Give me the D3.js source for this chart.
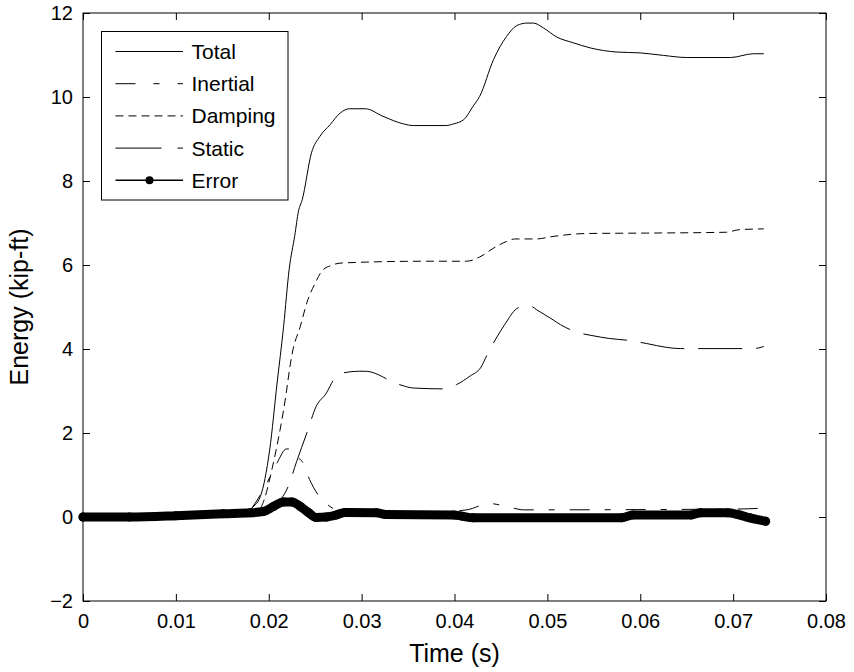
<!DOCTYPE html>
<html>
<head>
<meta charset="utf-8">
<script src="https://cdn.jsdelivr.net/npm/d3@7"></script>
<style>
    body { margin: 0; background: #fff; }
    svg { display: block; font-family: "Liberation Sans", Arial, Helvetica, sans-serif; }
</style>
</head>
<body>
<svg id="chart" width="854" height="672"></svg>
<script>
// values: [time (s), energy (kip-ft)]
const totalData = [[0,0],[0.0175,0.02],[0.018,0.17],[0.0191,0.49],[0.0201,1.6],[0.0209,3.19],[0.0216,4.54],
    [0.0222,5.9],[0.0228,6.7],[0.0232,7.28],[0.0236,7.55],[0.0246,8.67],[0.0255,9.06],[0.0266,9.34],
    [0.0277,9.62],[0.0287,9.72],[0.0304,9.72],[0.0323,9.54],[0.0345,9.36],[0.0356,9.32],[0.0391,9.32],
    [0.0399,9.36],[0.041,9.46],[0.042,9.78],[0.0427,10.01],[0.0442,10.89],[0.0456,11.44],[0.0467,11.7],
    [0.0478,11.76],[0.0485,11.76],[0.0496,11.64],[0.051,11.43],[0.0528,11.29],[0.0546,11.17],[0.0575,11.07],
    [0.06,11.05],[0.0625,10.99],[0.065,10.94],[0.0697,10.94],[0.0722,11.03],[0.0733,11.03]];

const inertialData = [[0,0],[0.0175,0.03],[0.0183,0.25],[0.0198,0.81],[0.0209,1.29],[0.0219,1.62],[0.0225,1.62],
    [0.023,1.44],[0.0236,1.32],[0.0244,0.89],[0.0253,0.53],[0.0266,0.25],[0.028,0.12],[0.038,0.12],
    [0.0413,0.17],[0.0438,0.32],[0.0456,0.25],[0.0475,0.17],[0.0705,0.19],[0.0733,0.21]];

const dampingData = [[0,0],[0.018,0.02],[0.0192,0.25],[0.0205,1.29],[0.0216,2.55],[0.0226,3.98],[0.0234,4.54],
    [0.0241,5.1],[0.025,5.57],[0.0257,5.85],[0.0266,5.98],[0.028,6.05],[0.037,6.09],[0.0413,6.09],
    [0.0427,6.19],[0.0442,6.4],[0.0456,6.56],[0.0465,6.62],[0.0488,6.62],[0.0506,6.68],[0.0542,6.75],
    [0.0607,6.76],[0.0693,6.78],[0.0706,6.84],[0.0733,6.86]];

const staticData = [[0,0],[0.0188,0.03],[0.0205,0.25],[0.0221,0.73],[0.023,1.32],[0.0241,2.0],[0.0251,2.63],
    [0.0262,2.95],[0.027,3.27],[0.028,3.43],[0.0298,3.47],[0.0304,3.47],[0.0341,3.15],[0.0356,3.07],
    [0.039,3.05],[0.0402,3.15],[0.0417,3.36],[0.0428,3.55],[0.0436,3.9],[0.0445,4.26],[0.0454,4.58],
    [0.0467,4.96],[0.0474,5.01],[0.0483,5.01],[0.0488,4.94],[0.0505,4.71],[0.0514,4.58],[0.0535,4.38],
    [0.0548,4.32],[0.0567,4.25],[0.0589,4.2],[0.0607,4.13],[0.0628,4.04],[0.0643,4.01],[0.0722,4.01],
    [0.0733,4.06]];

const errorData = [[0,0],[0.005,0],[0.01,0.03],[0.0151,0.08],[0.018,0.1],[0.0194,0.13],[0.0205,0.25],
    [0.0216,0.36],[0.0225,0.36],[0.0234,0.25],[0.0243,0.1],[0.0251,-0.01],[0.0262,0],[0.0273,0.05],
    [0.0282,0.11],[0.0316,0.1],[0.0326,0.06],[0.0399,0.05],[0.0408,0.02],[0.042,-0.02],[0.058,-0.02],
    [0.0592,0.05],[0.0655,0.05],[0.0665,0.1],[0.0694,0.1],[0.0705,0.06],[0.0718,-0.02],[0.0735,-0.1]];

const seriesNames = ["Total", "Inertial", "Damping", "Static", "Error"];
const xTickValues = [0, 0.01, 0.02, 0.03, 0.04, 0.05, 0.06, 0.07, 0.08];
const xTickLabels = ["0", "0.01", "0.02", "0.03", "0.04", "0.05", "0.06", "0.07", "0.08"];
const yTickValues = [-2, 0, 2, 4, 6, 8, 10, 12];

const LEFT = 83, RIGHT = 826, TOP = 13, BOTTOM = 601;
const TICK = 7;

function draw() {
    let svg = d3.select("#chart");
    svg.append("rect").attr("width", 854).attr("height", 672).attr("fill", "#fff");

    let x = d3.scaleLinear().domain([0, 0.08]).range([LEFT, RIGHT]);
    let y = d3.scaleLinear().domain([-2, 12]).range([BOTTOM, TOP]);

    // axes, MATLAB style ticks pointing inward on all four sides
    let axes = [
        [d3.axisBottom(x).tickValues(xTickValues).tickFormat((d, i) => xTickLabels[i]), 0, BOTTOM, 13],
        [d3.axisTop(x).tickValues(xTickValues).tickFormat(""), 0, TOP, 10],
        [d3.axisLeft(y).tickValues(yTickValues).tickFormat(d3.format("d")), LEFT, 0, 10],
        [d3.axisRight(y).tickValues(yTickValues).tickFormat(""), RIGHT, 0, 10],
    ];
    for (let [axis, tx, ty, pad] of axes) {
        let g = svg.append("g")
            .attr("transform", "translate(" + tx + "," + ty + ")")
            .call(axis.tickSizeInner(-TICK).tickSizeOuter(0).tickPadding(pad));
        g.select(".domain").remove();
        g.selectAll("line").attr("stroke", "#000");
        g.selectAll("text").attr("fill", "#000").style("font-size", "20px")
            .style("font-family", "'Liberation Sans', Arial, sans-serif");
    }

    let line = d3.line().x(d => x(d[0])).y(d => y(d[1])).curve(d3.curveMonotoneX);

    let thinSeries = [
        [totalData, null],
        [inertialData, "20,15,6,15"],
        [dampingData, "8,5"],
        [staticData, "44,14"],
    ];
    for (let [data, dash] of thinSeries) {
        svg.append("path")
            .datum(data)
            .attr("d", line)
            .attr("fill", "none")
            .attr("stroke", "#000")
            .attr("stroke-width", 1)
            .attr("stroke-dasharray", dash);
    }

    // error curve: dense dot markers read as a thick band
    svg.append("path")
        .datum(errorData)
        .attr("d", line)
        .attr("fill", "none")
        .attr("stroke", "#000")
        .attr("stroke-width", 9)
        .attr("stroke-linejoin", "round")
        .attr("stroke-linecap", "round");
    svg.selectAll(".err-dot")
        .data(errorData)
        .enter()
        .append("circle")
            .attr("class", "err-dot")
            .attr("cx", d => x(d[0]))
            .attr("cy", d => y(d[1]))
            .attr("r", 4.5)
            .attr("fill", "#000");

    // frame
    svg.append("rect")
        .attr("x", LEFT).attr("y", TOP)
        .attr("width", RIGHT - LEFT).attr("height", BOTTOM - TOP)
        .attr("fill", "none").attr("stroke", "#000").attr("stroke-width", 1);

    // axis titles
    svg.append("text")
        .attr("x", (LEFT + RIGHT) / 2).attr("y", 662)
        .attr("text-anchor", "middle")
        .style("font-size", "25px")
        .text("Time (s)");
    svg.append("text")
        .attr("transform", "translate(28," + (TOP + BOTTOM) / 2 + ") rotate(-90)")
        .attr("text-anchor", "middle")
        .style("font-size", "25px")
        .text("Energy (kip-ft)");

    // legend
    let legend = svg.append("g");
    legend.append("rect")
        .attr("x", 101.5).attr("y", 31.5).attr("width", 186.5).attr("height", 168.5)
        .attr("fill", "#fff").attr("stroke", "#000");
    let legendDash = [null, "20,18,6,18", "8,5", "46,16", null];
    seriesNames.forEach((name, i) => {
        let ry = 51.5 + i * 32.2;
        legend.append("line")
            .attr("x1", 115.5).attr("x2", 183)
            .attr("y1", ry).attr("y2", ry)
            .attr("stroke", "#000")
            .attr("stroke-width", i === 4 ? 1.5 : 1)
            .attr("stroke-dasharray", legendDash[i]);
        if (i === 4) {
            legend.append("circle").attr("cx", 149.5).attr("cy", ry).attr("r", 4).attr("fill", "#000");
        }
        legend.append("text")
            .attr("x", 191.5).attr("y", ry).attr("dy", "0.36em")
            .style("font-size", "21px")
            .text(name);
    });
}

draw();
</script>
</body>
</html>
